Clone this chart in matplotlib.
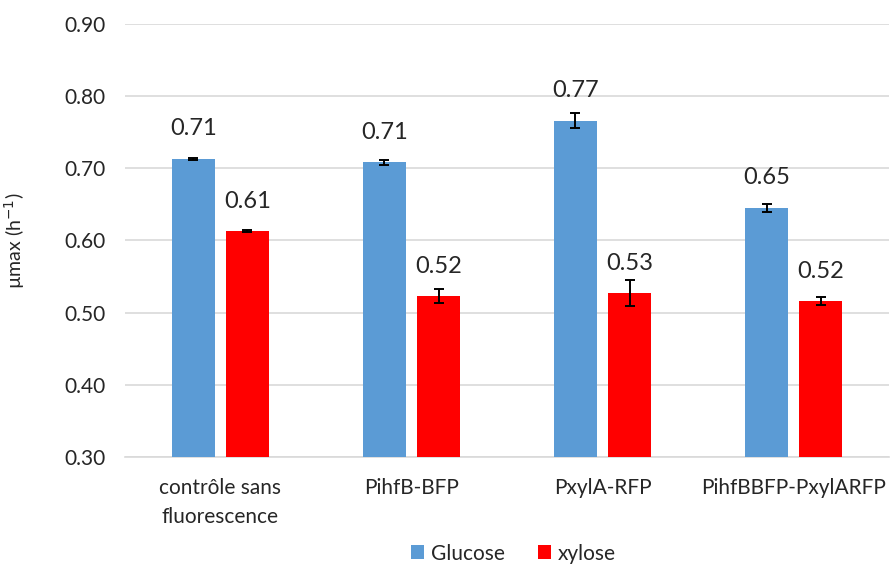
import numpy as np
from matplotlib import pyplot as plt

plt.rcParams['font.family'] = ['Lato', 'DejaVu Sans']

categories = ['contrôle sans\nfluorescence', 'PihfB-BFP', 'PxylA-RFP', 'PihfBBFP-PxylARFP']
glucose = [0.713, 0.708, 0.766, 0.645]
glucose_err = [0.001, 0.004, 0.011, 0.005]
xylose = [0.613, 0.523, 0.527, 0.516]
xylose_err = [0.001, 0.010, 0.018, 0.005]

blue = '#5B9BD5'
red = '#FF0000'
txt = '#262626'

fig = plt.figure(figsize=(8.91, 5.65), dpi=100)
ax = fig.add_axes([0.140, 0.191, 0.858, 0.767])

x = np.arange(len(categories))
w = 0.225
off = 0.142
ekw = dict(ecolor='black', elinewidth=1.4, capsize=3.5, capthick=1.4)
ax.bar(x - off, glucose, w, yerr=glucose_err, color=blue, label='Glucose',
       error_kw=ekw, zorder=3)
ax.bar(x + off, xylose, w, yerr=xylose_err, color=red, label='xylose',
       error_kw=ekw, zorder=3)

for xi, g, xy in zip(x, glucose, xylose):
    ax.annotate(f'{g:.2f}', (xi - off, g), xytext=(0, 14), textcoords='offset points',
                ha='center', va='bottom', fontsize=17, color=txt)
    ax.annotate(f'{xy:.2f}', (xi + off, xy), xytext=(0, 14), textcoords='offset points',
                ha='center', va='bottom', fontsize=17, color=txt)

ax.set_xlim(-0.5, len(categories) - 0.5)
ax.set_ylim(0.30, 0.90)
ax.set_yticks(np.arange(0.30, 0.91, 0.10))
ax.set_yticklabels([f'{v:.2f}' for v in np.arange(0.30, 0.91, 0.10)])
ax.set_xticks(x)
ax.set_xticklabels(categories, fontsize=15, color=txt, linespacing=1.55)
ax.tick_params(axis='y', labelsize=15, colors=txt, length=0, pad=14)
ax.tick_params(axis='x', length=0, pad=15)
ax.grid(axis='y', color='#D9D9D9', linewidth=1.2, zorder=0)
for s in ['top', 'right', 'left']:
    ax.spines[s].set_visible(False)
ax.spines['bottom'].set_color('#D9D9D9')
ax.spines['bottom'].set_linewidth(1.2)

ax.set_ylabel('µmax (h$^{-1}$)', fontsize=14, color=txt)
ax.yaxis.set_label_coords(-0.128, 0.5)

fig.legend(loc='lower center', bbox_to_anchor=(0.576, -0.031), ncol=2, frameon=False,
           fontsize=15, handlelength=0.65, handleheight=0.65, handletextpad=0.3,
           columnspacing=1.6, labelcolor=txt)

fig.savefig('out.png', dpi=100)
